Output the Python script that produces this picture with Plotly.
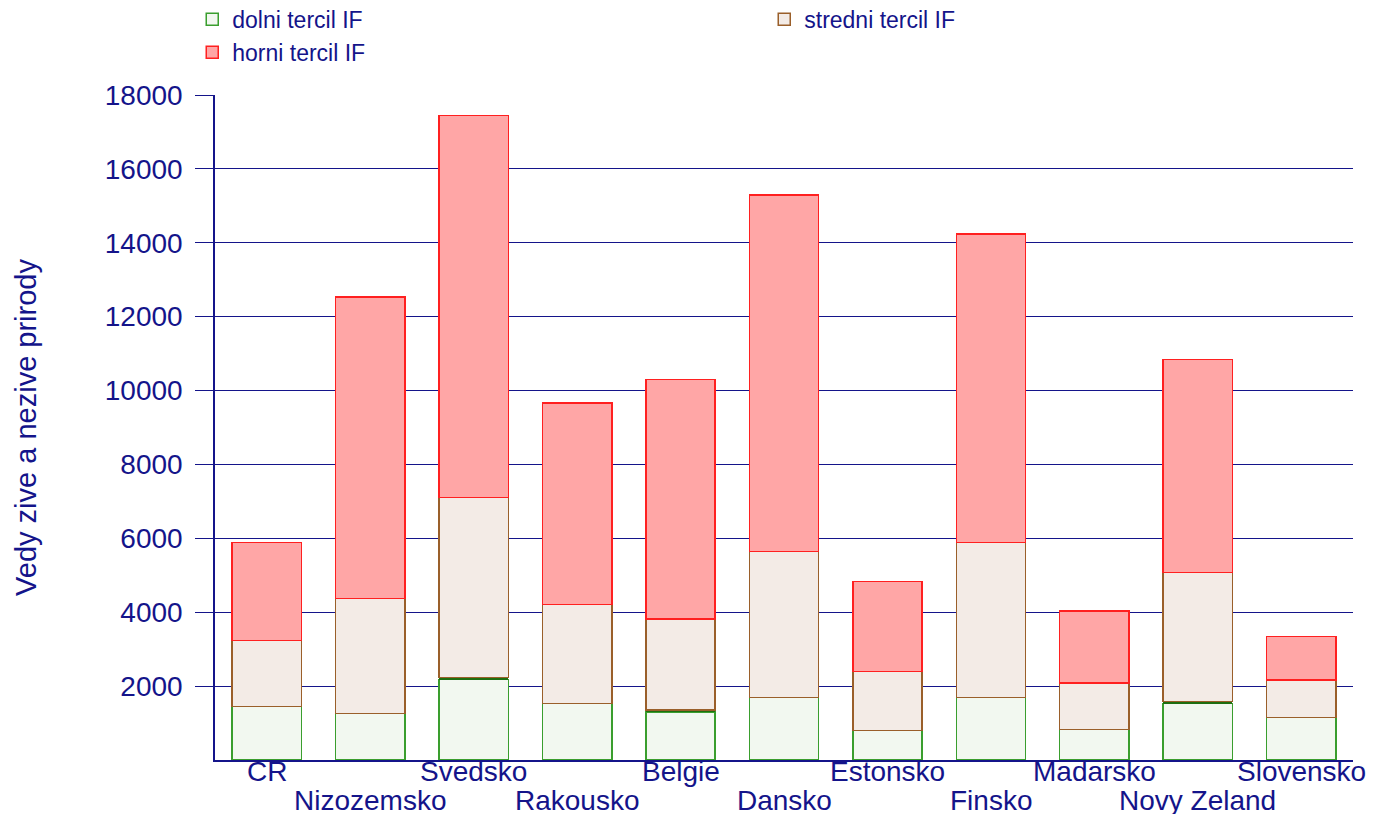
import plotly.graph_objects as go

countries = ["CR", "Nizozemsko", "Svedsko", "Rakousko", "Belgie", "Dansko",
             "Estonsko", "Finsko", "Madarsko", "Novy Zeland", "Slovensko"]

# stacked segments
dolni = [1450, 1260, 2180, 1530, 1300, 1690, 800, 1690, 830, 1530, 1150]
tenka = [0, 0, 50, 0, 50, 0, 0, 0, 0, 50, 0]   # thin dark green sliver
stredni = [1790, 3110, 4870, 2680, 2460, 3960, 1600, 4200, 1250, 3500, 1010]
horni = [2650, 8160, 10350, 5460, 6490, 9650, 2430, 8350, 1950, 5760, 1180]

navy = "#14148a"
font = "Liberation Sans, Arial, sans-serif"

fig = go.Figure()
fig.add_trace(go.Bar(x=countries, y=dolni, name="dolni tercil IF",
                     marker=dict(color="#f2f8f0", line=dict(color="#3a9e2e", width=1.5))))
fig.add_trace(go.Bar(x=countries, y=tenka, showlegend=False, hoverinfo="skip",
                     marker=dict(color="#1e6e10", line=dict(width=0))))
fig.add_trace(go.Bar(x=countries, y=stredni, name="stredni tercil IF",
                     marker=dict(color="#f3ebe6", line=dict(color="#9a5f2a", width=1.5))))
fig.add_trace(go.Bar(x=countries, y=horni, name="horni tercil IF",
                     marker=dict(color="#ffa6a6", line=dict(color="#ff2020", width=1.5))))

# staggered category labels
for i, c in enumerate(countries):
    fig.add_annotation(x=c, y=0, xref="x", yref="paper", text=c, showarrow=False,
                       yanchor="top", yshift=6 if i % 2 == 0 else -23,
                       font=dict(size=28, color=navy, family=font))

fig.update_layout(
    barmode="stack",
    bargap=0.33,
    width=1374, height=814,
    margin=dict(l=207, r=29, t=87, b=62, autoexpand=False),
    plot_bgcolor="white", paper_bgcolor="white",
    font=dict(family=font, color=navy, size=26),
    legend=dict(orientation="h", x=-0.02, y=1.146, xanchor="left", yanchor="top",
                entrywidth=527, traceorder="normal",
                font=dict(family=font, size=23, color=navy),
                tracegroupgap=0),
    xaxis=dict(showticklabels=False, showline=True, linecolor=navy, linewidth=1.5,
               ticks="", showgrid=False, automargin=False, range=[-0.5, 10.5]),
    yaxis=dict(range=[0, 18000], tickvals=list(range(2000, 18001, 2000)), tickformat="d",
               showgrid=True, gridcolor=navy, gridwidth=1,
               showline=True, linecolor=navy, linewidth=1.5,
               ticks="outside", ticklen=18, tickcolor=navy, tickwidth=1,
               ticklabelstandoff=7, automargin=False, zeroline=False,
               tickfont=dict(size=28, color=navy),
               title=dict(text="Vedy zive a nezive prirody", standoff=60,
                          font=dict(size=29, color=navy))),
)

fig.write_html("out.html")
